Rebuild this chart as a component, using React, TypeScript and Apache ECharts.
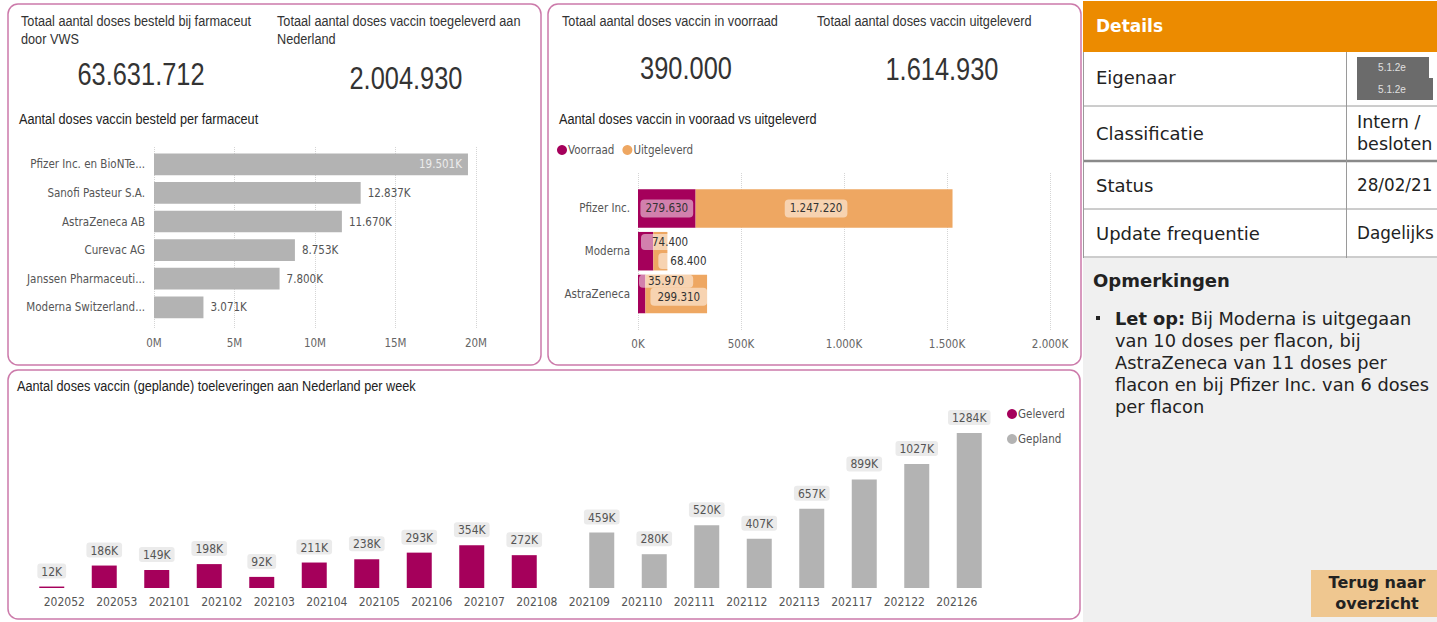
import React, { useEffect, useRef } from 'react';
import * as echarts from 'echarts';

// ---------- DATA ----------
const kpiBesteld = 63631712;
const kpiToegeleverd = 2004930;
const kpiVoorraad = 390000;
const kpiUitgeleverd = 1614930;

const farmaCategories = [
  'Pfizer Inc. en BioNTe...',
  'Sanofi Pasteur S.A.',
  'AstraZeneca AB',
  'Curevac AG',
  'Janssen Pharmaceuti...',
  'Moderna Switzerland...',
];
const farmaBesteld = [19501000, 12837000, 11670000, 8753000, 7800000, 3071000];

const stockCategories = ['Pfizer Inc.', 'Moderna', 'AstraZeneca'];
const voorraad = [279630, 74400, 35970];
const uitgeleverd = [1247220, 68400, 299310];

const weeks = [
  '202052', '202053', '202101', '202102', '202103', '202104', '202105', '202106', '202107',
  '202108', '202109', '202110', '202111', '202112', '202113', '202117', '202122', '202126',
];
const geleverd = [12000, 186000, 149000, 198000, 92000, 211000, 238000, 293000, 354000, 272000,
  null, null, null, null, null, null, null, null];
const gepland = [null, null, null, null, null, null, null, null, null, null,
  459000, 280000, 520000, 407000, 657000, 899000, 1027000, 1284000];

const detailRows = [
  ['Eigenaar', ''],
  ['Classificatie', 'Intern /\nbesloten'],
  ['Status', '28/02/21'],
  ['Update frequentie', 'Dagelijks'],
];

// ---------- HELPERS ----------
const ARIAL = '"Liberation Sans", Arial, sans-serif';
const COND = '"DejaVu Sans Condensed", "DejaVu Sans", sans-serif';
const VERD = '"DejaVu Sans", Verdana, sans-serif';
const MAGENTA = '#a5005b';
const ORANGE = '#eea762';
const GREY = '#b3b3b3';
const BORDER = '#cc7aaa';

function fmtDots(n: number): string {
  const s = String(Math.round(n));
  return s.replace(/\B(?=(\d{3})+(?!\d))/g, '.');
}

function txt(text: string, x: number, y: number, o: any = {}) {
  const align = o.align || 'left';
  const va = o.va || 'middle';
  const narrow = o.narrow !== false && !o.family;
  return {
    type: 'text',
    x,
    y,
    scaleX: narrow ? 0.82 : 1,
    z: o.z ?? 10,
    style: {
      text,
      fill: o.fill || '#333',
      fontSize: o.size || 15.5,
      fontFamily: o.family || ARIAL,
      fontWeight: o.weight || 'normal',
      align,
      textAlign: align,
      verticalAlign: va,
      textVerticalAlign: va,
      lineHeight: o.lineHeight,
      rich: o.rich,
    },
  };
}

function panel(x: number, y: number, w: number, h: number) {
  return {
    type: 'rect',
    shape: { x, y, width: w, height: h, r: 10 },
    style: { fill: 'none', stroke: BORDER, lineWidth: 1.5 },
    z: 1,
  };
}

function hline(x1: number, x2: number, y: number, w = 1, c = '#9a9a9a') {
  return { type: 'line', shape: { x1, y1: y, x2, y2: y }, style: { stroke: c, lineWidth: w }, z: 5 };
}
function vline(x: number, y1: number, y2: number, w = 1, c = '#9a9a9a') {
  return { type: 'line', shape: { x1: x, y1, x2: x, y2 }, style: { stroke: c, lineWidth: w }, z: 5 };
}

// label placements for the stock chart (Power BI-like)
const voorraadLabelPos: any[] = [
  { position: 'inside' },
  { position: [3, 2], verticalAlign: 'top', align: 'left', padding: [2, 11, 2, 11] },
  { position: [1, 0], verticalAlign: 'top', align: 'left', padding: [0, 9, 1, 9] },
];
const uitgeleverdLabelPos: any[] = [
  { position: 'inside', offset: [-8, 0] },
  { position: [5, 21], verticalAlign: 'top', align: 'left', padding: [2, 12, 2, 12] },
  { position: [5, 13], verticalAlign: 'top', align: 'left', padding: [3, 7, 3, 7] },
];

export default function App() {
  const ref = useRef<HTMLDivElement>(null);

  useEffect(() => {
    if (!ref.current) return;
    const chart = echarts.init(ref.current, undefined, { renderer: 'svg' });

    const stockLabelBase = {
      show: true,
      color: '#333',
      fontSize: 11.5,
      fontFamily: COND,
      backgroundColor: 'rgba(255,255,255,0.5)',
      borderRadius: 4,
      padding: [3, 5],
      formatter: (p: any) => fmtDots(p.value),
    };

    const graphic: any[] = [
      panel(8, 4, 533, 361),
      panel(548, 4, 533, 361),
      panel(8, 370, 1072, 249),
      // KPI texts panel 1
      txt('Totaal aantal doses besteld bij farmaceut\ndoor VWS', 21, 12, { va: 'top', lineHeight: 18 }),
      txt('Totaal aantal doses vaccin toegeleverd aan\nNederland', 277, 12, { va: 'top', lineHeight: 18 }),
      txt(fmtDots(kpiBesteld), 141, 74, { size: 31, align: 'center' }),
      txt(fmtDots(kpiToegeleverd), 406, 78, { size: 31, align: 'center' }),
      txt('Aantal doses vaccin besteld per farmaceut', 19, 119, { fill: '#222' }),
      // KPI texts panel 2
      txt('Totaal aantal doses vaccin in voorraad', 562, 21),
      txt('Totaal aantal doses vaccin uitgeleverd', 817, 21),
      txt(fmtDots(kpiVoorraad), 686, 68, { size: 31, align: 'center' }),
      txt(fmtDots(kpiUitgeleverd), 942, 69, { size: 31, align: 'center' }),
      txt('Aantal doses vaccin in vooraad vs uitgeleverd', 559, 119, { fill: '#222' }),
      // bottom title
      txt('Aantal doses vaccin (geplande) toeleveringen aan Nederland per week', 17, 386, { fill: '#222' }),
      // right panel
      { type: 'rect', shape: { x: 1083, y: 1, width: 354, height: 51 }, style: { fill: '#ec8b00' }, z: 2 },
      txt('Details', 1096, 26, { family: VERD, size: 17, weight: 'bold', fill: '#fff' }),
      { type: 'rect', shape: { x: 1083, y: 52, width: 354, height: 206 }, style: { fill: '#fff' }, z: 2 },
      { type: 'rect', shape: { x: 1083, y: 258, width: 354, height: 364 }, style: { fill: '#f0f0f0' }, z: 2 },
      hline(1083, 1437, 106),
      hline(1083, 1437, 161, 2.5, '#8a8a8a'),
      hline(1083, 1437, 209),
      hline(1083, 1437, 257),
      vline(1083.5, 52, 258),
      vline(1346.5, 52, 258),
      // redaction boxes
      { type: 'rect', shape: { x: 1357, y: 57, width: 72, height: 21 }, style: { fill: '#6b6b6b' }, z: 6 },
      { type: 'rect', shape: { x: 1357, y: 78, width: 76, height: 22 }, style: { fill: '#6b6b6b' }, z: 6 },
      txt('5.1.2e', 1392, 67, { family: ARIAL, size: 10, fill: '#e0e0e0', align: 'center' }),
      txt('5.1.2e', 1392, 89, { family: ARIAL, size: 10, fill: '#e0e0e0', align: 'center' }),
      txt('Opmerkingen', 1093, 280, { family: VERD, size: 18, weight: 'bold', fill: '#222' }),
      { type: 'rect', shape: { x: 1096, y: 316, width: 4, height: 4 }, style: { fill: '#222' }, z: 6 },
      txt('{b|Let op:} Bij Moderna is uitgegaan\nvan 10 doses per flacon, bij\nAstraZeneca van 11 doses per\nflacon en bij Pfizer Inc. van 6 doses\nper flacon',
        1115, 307, {
          family: VERD, size: 17.8, fill: '#222', va: 'top', lineHeight: 22,
          rich: { b: { fontWeight: 'bold', fontFamily: VERD, fontSize: 17.8, fill: '#222', lineHeight: 22 } },
        }),
      { type: 'rect', shape: { x: 1311, y: 570, width: 126, height: 47 }, style: { fill: '#efc790' }, z: 6 },
      txt('Terug naar', 1377, 582, { family: VERD, size: 16, weight: 'bold', fill: '#222', align: 'center' }),
      txt('overzicht', 1377, 603, { family: VERD, size: 16, weight: 'bold', fill: '#222', align: 'center' }),
    ];

    const rowY = [77, 133, 185, 233];
    detailRows.forEach((r, i) => {
      graphic.push(txt(r[0], 1096, rowY[i], { family: VERD, size: 18, fill: '#222' }));
      if (r[1]) {
        const lines = r[1].split('\n');
        if (lines.length === 1) {
          graphic.push(txt(lines[0], 1357, rowY[i], { family: VERD, size: 16.8, fill: '#222' }));
        } else {
          lines.forEach((l, j) => {
            graphic.push(txt(l, 1357, rowY[i] - 11 + j * 22, { family: VERD, size: 17.5, fill: '#222' }));
          });
        }
      }
    });

    const axisLabelStyle = { color: '#666', fontSize: 11.5, fontFamily: COND };
    const splitDotted = { show: true, lineStyle: { type: 'dotted', color: '#d5d5d5', width: 1 } };
    const valueLabel = {
      show: true,
      position: 'top',
      distance: 8,
      color: '#555',
      fontSize: 12,
      fontFamily: COND,
      backgroundColor: '#ebebeb',
      borderRadius: 3,
      padding: [2, 4, 1, 4],
      formatter: (p: any) => Math.round(p.value / 1000) + 'K',
    };

    const option: any = {
      animation: false,
      backgroundColor: '#fff',
      textStyle: { fontFamily: COND },
      graphic,
      legend: [
        {
          data: ['Voorraad', 'Uitgeleverd'],
          left: 552,
          top: 139,
          orient: 'horizontal',
          icon: 'circle',
          itemWidth: 10,
          itemHeight: 10,
          itemGap: 8,
          textStyle: { color: '#555', fontSize: 11.5, fontFamily: COND, padding: [0, 0, 0, -4] },
        },
        {
          data: ['Geleverd', 'Gepland'],
          left: 1002,
          top: 403,
          orient: 'vertical',
          icon: 'circle',
          itemWidth: 10,
          itemHeight: 10,
          itemGap: 13,
          textStyle: { color: '#555', fontSize: 11.5, fontFamily: COND, padding: [0, 0, 0, -4] },
        },
      ],
      grid: [
        { left: 154, width: 322, top: 150, height: 171.6 },
        { left: 154, width: 322, top: 147, height: 181 },
        { left: 638, width: 412, top: 187, height: 128.4 },
        { left: 638, width: 412, top: 173, height: 157 },
        { left: 38, width: 945, top: 433, height: 155 },
      ],
      xAxis: [
        { gridIndex: 0, type: 'value', min: 0, max: 20000000, show: false },
        {
          gridIndex: 1, type: 'value', min: 0, max: 20000000, interval: 5000000,
          axisLine: { show: false }, axisTick: { show: false },
          axisLabel: { ...axisLabelStyle, margin: 9, formatter: (v: number) => v / 1000000 + 'M' },
          splitLine: splitDotted,
        },
        { gridIndex: 2, type: 'value', min: 0, max: 2000000, show: false },
        {
          gridIndex: 3, type: 'value', min: 0, max: 2000000, interval: 500000,
          axisLine: { show: false }, axisTick: { show: false },
          axisLabel: { ...axisLabelStyle, margin: 8, formatter: (v: number) => fmtDots(v / 1000) + 'K' },
          splitLine: splitDotted,
        },
        {
          gridIndex: 4, type: 'category', data: weeks,
          axisLine: { show: false }, axisTick: { show: false },
          axisLabel: { color: '#555', fontSize: 12, fontFamily: COND, margin: 8, interval: 0 },
        },
      ],
      yAxis: [
        {
          gridIndex: 0, type: 'category', data: farmaCategories, inverse: true,
          axisLine: { show: false }, axisTick: { show: false },
          axisLabel: { color: '#555', fontSize: 11.5, fontFamily: COND, margin: 9 },
        },
        { gridIndex: 1, type: 'value', min: 0, max: 1, show: false },
        {
          gridIndex: 2, type: 'category', data: stockCategories, inverse: true,
          axisLine: { show: false }, axisTick: { show: false },
          axisLabel: { color: '#555', fontSize: 11.5, fontFamily: COND, margin: 8 },
        },
        { gridIndex: 3, type: 'value', min: 0, max: 1, show: false },
        { gridIndex: 4, type: 'value', min: 0, max: Math.max(...(gepland.filter((v) => v != null) as number[])), show: false },
      ],
      series: [
        {
          type: 'bar',
          name: 'Besteld',
          xAxisIndex: 0,
          yAxisIndex: 0,
          barCategoryGap: '24%',
          itemStyle: { color: GREY },
          data: farmaBesteld.map((v, i) => ({
            value: v,
            label: i === 0
              ? { position: 'insideRight', color: '#ececec', distance: 6 }
              : { position: 'right', color: '#555', distance: 7 },
          })),
          label: {
            show: true,
            fontSize: 11.5,
            fontFamily: COND,
            formatter: (p: any) => fmtDots(p.value / 1000) + 'K',
          },
        },
        {
          type: 'bar',
          name: 'Voorraad',
          xAxisIndex: 2,
          yAxisIndex: 2,
          stack: 'st',
          barCategoryGap: '10%',
          itemStyle: { color: MAGENTA },
          label: stockLabelBase,
          data: voorraad.map((v, i) => ({ value: v, label: voorraadLabelPos[i] })),
        },
        {
          type: 'bar',
          name: 'Uitgeleverd',
          xAxisIndex: 2,
          yAxisIndex: 2,
          stack: 'st',
          barCategoryGap: '10%',
          itemStyle: { color: ORANGE },
          label: stockLabelBase,
          data: uitgeleverd.map((v, i) => ({ value: v, label: uitgeleverdLabelPos[i] })),
        },
        {
          type: 'bar',
          name: 'Geleverd',
          xAxisIndex: 4,
          yAxisIndex: 4,
          barWidth: 25,
          barGap: '0%',
          itemStyle: { color: MAGENTA },
          data: geleverd,
          label: valueLabel,
        },
        {
          type: 'bar',
          name: 'Gepland',
          xAxisIndex: 4,
          yAxisIndex: 4,
          barWidth: 25,
          barGap: '0%',
          itemStyle: { color: GREY },
          data: gepland,
          label: valueLabel,
        },
      ],
    };

    chart.setOption(option);
    return () => chart.dispose();
  }, []);

  return (
    <div
      ref={ref}
      style={{ position: 'fixed', left: 0, top: 0, width: 1437, height: 622, background: '#fff' }}
    />
  );
}
